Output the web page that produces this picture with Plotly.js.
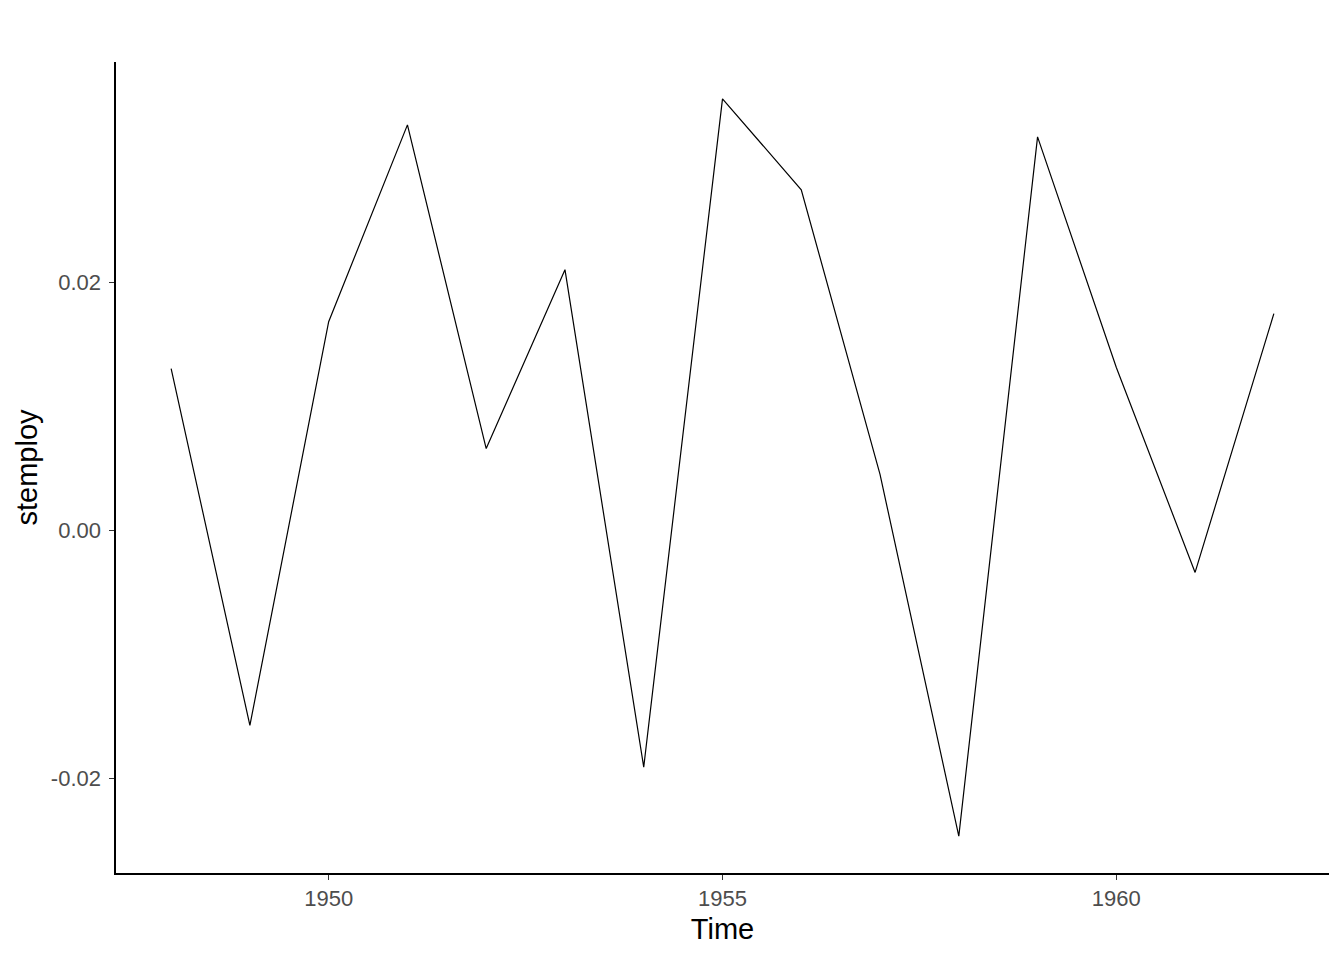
<!DOCTYPE html>
<html>
<head>
<meta charset="utf-8">
<script src="https://cdn.plot.ly/plotly-3.0.1.min.js"></script>
<style>html,body{margin:0;padding:0;background:#fff;}#chart{width:1344px;height:960px;}</style>
</head>
<body>
<div id="chart"></div>
<script>
const years = [1948,1949,1950,1951,1952,1953,1954,1955,1956,1957,1958,1959,1960,1961,1962];
const stemploy = [0.01306,-0.01573,0.01685,0.03274,0.00661,0.02105,-0.01911,0.03484,0.0275,0.00452,-0.02468,0.03177,0.01315,-0.00339,0.0175];
const xTickVals = [1950,1955,1960];
const xTickText = ["1950","1955","1960"];
const yTickVals = [-0.02,0,0.02];
const yTickText = ["-0.02","0.00","0.02"];

const xmin = Math.min(...years), xmax = Math.max(...years);
const ymin = Math.min(...stemploy), ymax = Math.max(...stemploy);
const xpad = (xmax - xmin) * 0.05, ypad = (ymax - ymin) * 0.05;

const trace = {
  x: years, y: stemploy, type: 'scatter', mode: 'lines',
  line: {color: '#000000', width: 1.2},
  hoverinfo: 'skip'
};

const layout = {
  width: 1344, height: 960,
  paper_bgcolor: '#ffffff', plot_bgcolor: '#ffffff',
  margin: {l: 116, r: 15, t: 62, b: 87, pad: 0},
  showlegend: false,
  font: {family: 'Liberation Sans, Arial, sans-serif'},
  xaxis: {
    range: [xmin - xpad, xmax + xpad],
    tickvals: xTickVals, ticktext: xTickText,
    ticks: 'outside', ticklen: 5, tickwidth: 1.3, tickcolor: '#333333',
    showline: true, linecolor: '#000000', linewidth: 1.6,
    showgrid: false, zeroline: false,
    tickfont: {size: 22, color: '#4d4d4d'},
    title: {text: 'Time', font: {size: 29, color: '#000000'}, standoff: 8},
    automargin: false,
    fixedrange: true
  },
  yaxis: {
    range: [ymin - ypad, ymax + ypad],
    tickvals: yTickVals, ticktext: yTickText,
    ticks: 'outside', ticklen: 5, tickwidth: 1.3, tickcolor: '#333333',
    ticklabelstandoff: 4,
    showline: true, linecolor: '#000000', linewidth: 1.6,
    showgrid: false, zeroline: false,
    tickfont: {size: 22, color: '#4d4d4d'},
    title: {text: 'stemploy', font: {size: 29, color: '#000000'}, standoff: 4},
    automargin: false,
    fixedrange: true
  }
};

Plotly.newPlot('chart', [trace], layout, {displayModeBar: false, staticPlot: true});
</script>
</body>
</html>
